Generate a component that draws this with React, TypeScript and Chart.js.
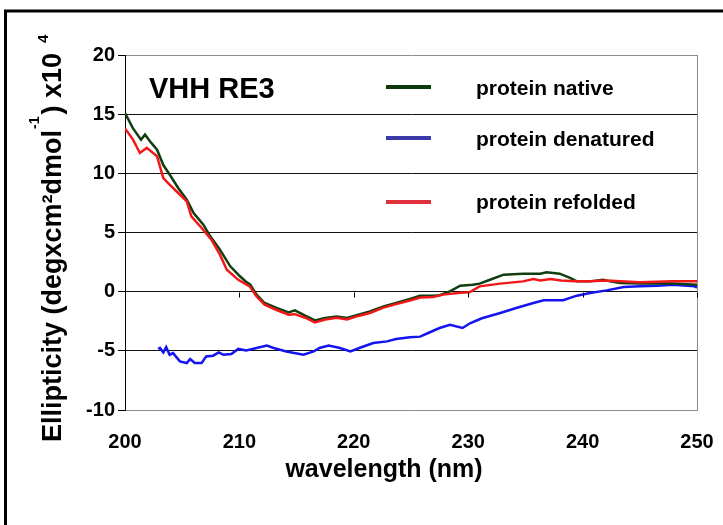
import React, { useEffect, useRef } from "react";
import { Chart, registerables } from "chart.js";

Chart.register(...registerables);

const FONT = "'Liberation Sans', Arial, Helvetica, sans-serif";

// ---- data (wavelength in nm, ellipticity x10^4) ----
const nativeWl = [200, 200.7, 201.4, 201.75, 202.3, 202.8, 203.35, 203.9, 204.65, 205.4, 206, 206.85, 207.45, 208.3, 209.2, 210.05, 210.5, 210.95, 211.5, 212.2, 213.25, 214.3, 214.85, 215.75, 216.6, 217.5, 218.5, 219.4, 220.4, 221.4, 222.6, 223.7, 224.9, 225.8, 226.95, 227.5, 228.4, 229.3, 230.4, 231.0, 231.9, 233.1, 234.8, 236.3, 236.85, 238.0, 238.9, 239.5, 240.65, 241.8, 242.4, 243.3, 245.0, 247.9, 250];
const nativeVal = [15.1, 13.8, 12.85, 13.27, 12.57, 12.0, 10.7, 9.9, 8.76, 7.78, 6.65, 5.66, 4.68, 3.55, 2.14, 1.3, 0.9, 0.59, -0.25, -0.96, -1.38, -1.75, -1.58, -2.03, -2.43, -2.22, -2.09, -2.22, -1.94, -1.67, -1.24, -0.96, -0.62, -0.34, -0.34, -0.3, 0.03, 0.5, 0.59, 0.68, 1.01, 1.44, 1.52, 1.52, 1.63, 1.52, 1.16, 0.87, 0.87, 1.01, 0.87, 0.74, 0.68, 0.68, 0.59];

const denaturedWl = [202.9, 203.05, 203.35, 203.6, 203.9, 204.2, 204.8, 205.4, 205.7, 206.1, 206.7, 207.1, 207.7, 208.2, 208.6, 209.3, 209.9, 210.6, 211.5, 212.4, 213.0, 214.1, 215.6, 216.5, 217.0, 217.8, 218.8, 219.7, 220.6, 221.7, 222.9, 223.7, 224.9, 225.8, 226.6, 227.5, 228.4, 229.5, 230.2, 231.2, 232.8, 234.2, 235.7, 236.6, 238.3, 239.5, 240.65, 242.1, 243.6, 245.0, 246.5, 247.9, 249.8, 250];
const denaturedVal = [-4.85, -4.76, -5.13, -4.68, -5.33, -5.19, -5.89, -6.03, -5.69, -6.03, -6.03, -5.47, -5.41, -5.13, -5.33, -5.27, -4.84, -4.96, -4.76, -4.56, -4.76, -5.05, -5.33, -5.05, -4.76, -4.56, -4.76, -5.05, -4.72, -4.34, -4.2, -4.0, -3.86, -3.8, -3.45, -3.07, -2.8, -3.07, -2.65, -2.25, -1.8, -1.38, -0.96, -0.73, -0.73, -0.34, -0.11, 0.11, 0.4, 0.45, 0.5, 0.59, 0.45, 0.35];

const refoldedWl = [200, 200.7, 201.3, 201.9, 202.8, 203.35, 203.9, 204.65, 205.4, 205.8, 206.7, 207.55, 208.3, 208.9, 209.9, 210.9, 211.5, 212.2, 213.25, 214.3, 214.85, 215.75, 216.6, 217.5, 218.5, 219.4, 220.4, 221.4, 222.6, 223.7, 224.9, 225.8, 226.95, 227.8, 229.3, 230.1, 231.0, 232.8, 234.8, 235.7, 236.3, 237.2, 238.1, 239.3, 240.6, 242.1, 243.3, 245.0, 247.9, 250];
const refoldedVal = [13.8, 12.85, 11.72, 12.15, 11.44, 9.6, 9.04, 8.34, 7.63, 6.37, 5.38, 4.4, 3.13, 1.86, 1.0, 0.45, -0.4, -1.1, -1.55, -1.95, -1.9, -2.2, -2.6, -2.35, -2.2, -2.35, -2.05, -1.8, -1.35, -1.05, -0.75, -0.5, -0.45, -0.25, -0.1, -0.05, 0.45, 0.68, 0.87, 1.07, 0.95, 1.07, 0.95, 0.87, 0.87, 0.95, 0.87, 0.79, 0.87, 0.87];

const seriesNames = ["protein native", "protein denatured", "protein refolded"];
const seriesColors = ["#103e10", "#1414f0", "#f01818"];
const legendColors = ["#0d3a0d", "#3a3aa8", "#e0303c"];

const xTickMin = 200;
const xTickMax = 250;
const xTickStep = 10;
const yTickMin = -10;
const yTickMax = 20;
const yTickStep = 5;

const chartTitle = "VHH RE3";
const xTitle = "wavelength (nm)";
const yTitleMain = "Ellipticity (degxcm²dmol";
const yTitleSup1 = "-1";
const yTitleMid = ") x10";
const yTitleSup2 = "4";

const toPoints = (xs: number[], ys: number[]) => xs.map((x, i) => ({ x, y: ys[i] }));

export default function App() {
  const ref = useRef<HTMLCanvasElement>(null);

  useEffect(() => {
    document.body.style.margin = "0";
    const canvas = ref.current;
    if (!canvas) return;

    const decor = {
      id: "decor",
      beforeDraw(chart: any) {
        const ctx = chart.ctx;
        ctx.save();
        ctx.fillStyle = "#ffffff";
        ctx.fillRect(0, 0, chart.width, chart.height);
        ctx.strokeStyle = "#000000";
        ctx.lineWidth = 3;
        ctx.strokeRect(5.5, 11, chart.width + 40, chart.height + 40);
        ctx.restore();
      },
      afterDraw(chart: any) {
        const { ctx, chartArea: ca } = chart;
        const xs = chart.scales.x;
        const ys = chart.scales.y;
        ctx.save();
        // right border of plot area
        ctx.strokeStyle = "#8c8c8c";
        ctx.lineWidth = 1;
        const rx = Math.round(ca.right) + 0.5;
        ctx.beginPath();
        ctx.moveTo(rx, ca.top);
        ctx.lineTo(rx, ca.bottom);
        ctx.stroke();
        // tick marks on the zero line
        const y0 = Math.round(ys.getPixelForValue(0)) + 0.5;
        ctx.strokeStyle = "#000000";
        ctx.beginPath();
        for (const t of xs.ticks) {
          const px = Math.round(xs.getPixelForValue(t.value)) + 0.5;
          ctx.moveTo(px, y0);
          ctx.lineTo(px, y0 + 5);
        }
        ctx.stroke();

        ctx.fillStyle = "#000000";
        ctx.textAlign = "left";
        ctx.textBaseline = "alphabetic";
        // title inside plot
        ctx.font = `bold 29px ${FONT}`;
        ctx.fillText(chartTitle, 149, 98);

        // legend
        const lineYs = [87, 138, 202];
        const textYs = [95, 146, 209];
        ctx.font = `bold 21px ${FONT}`;
        for (let i = 0; i < seriesNames.length; i++) {
          ctx.strokeStyle = legendColors[i];
          ctx.lineWidth = 4;
          ctx.beginPath();
          ctx.moveTo(386, lineYs[i]);
          ctx.lineTo(431, lineYs[i]);
          ctx.stroke();
          ctx.fillStyle = "#000000";
          ctx.fillText(seriesNames[i], 476, textYs[i]);
        }

        // x title
        ctx.font = `bold 25px ${FONT}`;
        ctx.textAlign = "center";
        ctx.fillText(xTitle, 384, 477);

        // y title (rotated)
        ctx.translate(61, 442);
        ctx.rotate(-Math.PI / 2);
        ctx.textAlign = "left";
        let u = 0;
        ctx.font = `bold 27px ${FONT}`;
        ctx.fillText(yTitleMain, u, 0);
        u += ctx.measureText(yTitleMain).width;
        ctx.font = `bold 14px ${FONT}`;
        ctx.fillText(yTitleSup1, u + 1, -22);
        u += ctx.measureText(yTitleSup1).width + 3;
        ctx.font = `bold 27px ${FONT}`;
        ctx.fillText(yTitleMid, u, 0);
        u += ctx.measureText(yTitleMid).width;
        ctx.font = `bold 15px ${FONT}`;
        ctx.fillText(yTitleSup2, u + 10, -13);
        ctx.restore();
      },
    };

    const chart = new Chart(canvas, {
      type: "line",
      data: {
        datasets: [
          { label: seriesNames[0], data: toPoints(nativeWl, nativeVal), borderColor: seriesColors[0], order: 1 },
          { label: seriesNames[1], data: toPoints(denaturedWl, denaturedVal), borderColor: seriesColors[1], order: 2 },
          { label: seriesNames[2], data: toPoints(refoldedWl, refoldedVal), borderColor: seriesColors[2], order: 0 },
        ].map((d) => ({ ...d, borderWidth: 2.5, pointRadius: 0, tension: 0, fill: false })),
      },
      options: {
        responsive: false,
        animation: false,
        layout: { padding: { left: 0, top: 55, right: 26, bottom: 0 } },
        plugins: { legend: { display: false }, tooltip: { enabled: false }, title: { display: false } },
        scales: {
          x: {
            type: "linear",
            min: xTickMin,
            max: xTickMax,
            afterFit: (s: any) => {
              s.height = 115;
              s.paddingLeft = 0;
              s.paddingRight = 0;
            },
            grid: { display: false },
            border: { display: true, color: "#8c8c8c", width: 1 },
            ticks: {
              stepSize: xTickStep,
              color: "#000000",
              padding: 12,
              font: { family: FONT, size: 20, weight: "bold" },
              maxRotation: 0,
            },
          },
          y: {
            type: "linear",
            min: yTickMin,
            max: yTickMax,
            afterFit: (s: any) => { s.width = 125; },
            grid: {
              color: (c: any) => (c.tick && (c.tick.value === yTickMax || c.tick.value === yTickMin) ? "#8c8c8c" : "#111111"),
              tickColor: "#000000",
              tickLength: 7,
              drawTicks: true,
              lineWidth: 1,
            },
            border: { display: true, color: "#000000", width: 1 },
            ticks: {
              stepSize: yTickStep,
              color: "#000000",
              padding: 3,
              font: { family: FONT, size: 20, weight: "bold" },
            },
          },
        },
      },
      plugins: [decor],
    });

    return () => chart.destroy();
  }, []);

  return (
    <div style={{ width: 723, height: 525 }}>
      <canvas ref={ref} width={723} height={525} style={{ display: "block" }} />
    </div>
  );
}
